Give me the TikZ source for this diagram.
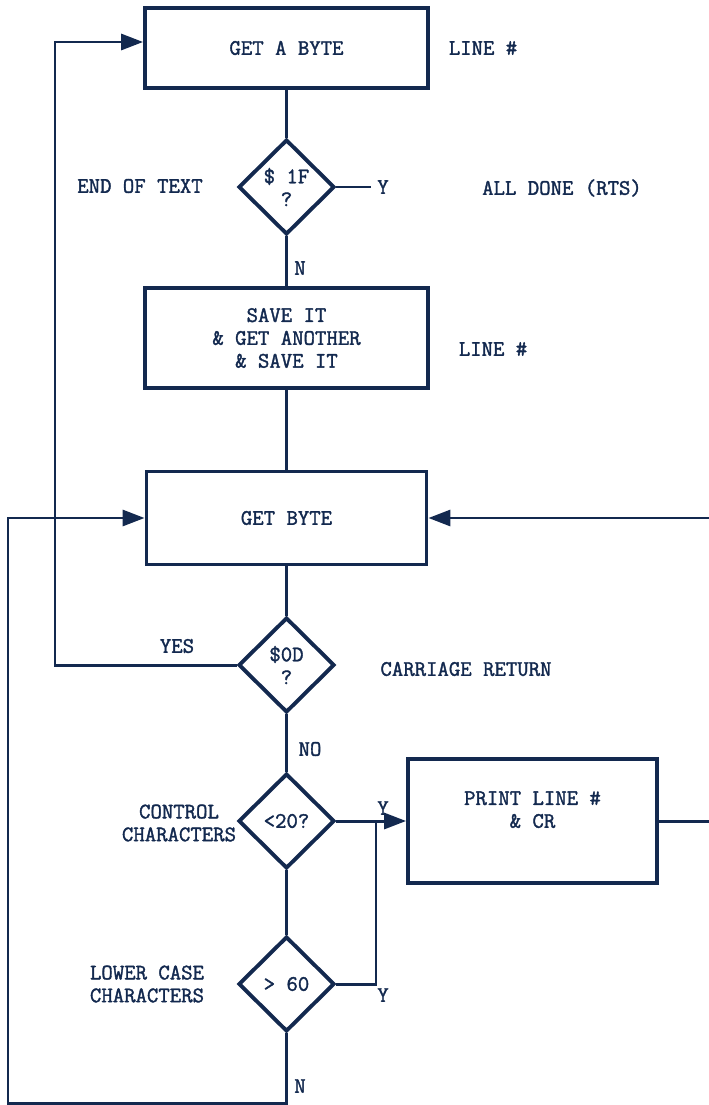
\documentclass[tikz,border=0pt]{standalone}
\usepackage{fontspec}
\usepackage{tikz}
\usetikzlibrary{arrows.meta,positioning,shapes,calc}
\newfontfamily\typefont[FakeBold=1.6]{Latin Modern Mono}
\definecolor{ink}{HTML}{13294F}
\tikzset{
  stepbox/.style={draw=ink,line width=2.2pt,text=ink,
                  inner sep=0pt,align=center},
  test/.style={diamond,draw=ink,line width=2.2pt,text=ink,
               minimum width=1.92cm,minimum height=1.9cm,
               inner sep=0pt,align=center},
  note/.style={text=ink,align=center},
  flowline/.style={line width=1.7pt,draw=ink},
  flowarr/.style={-{Triangle[length=4.4mm,width=3.2mm]},line width=1.7pt,draw=ink}
}
\begin{document}
\begin{tikzpicture}[x=0.02cm,y=-0.02cm,font=\typefont\fontsize{12.6}{13}\selectfont]
  \useasboundingbox (0,0) rectangle (709,1105);
  % main column
  \node[stepbox,minimum width=5.66cm,minimum height=1.6cm] (getone) at (286.5,48) {GET A BYTE};
  \node[test] (deot) at (286.5,187) {\$ 1F\\?};
  \node[stepbox,minimum width=5.66cm,minimum height=2cm] (save) at (286.5,338) {SAVE IT\\\& GET ANOTHER\\\& SAVE IT};
  \node[stepbox,minimum width=5.6cm,minimum height=1.86cm] (getbyte) at (286.5,518) {GET BYTE};
  \node[test] (dcr) at (286.5,665) {\$0D\\?};
  \node[test] (dctl) at (286.5,821) {<20?};
  \node[test] (dlc) at (286.5,984) {> 60};
  \node[stepbox,minimum width=4.98cm,minimum height=2.48cm] (prline) at (532.5,821) {PRINT LINE \#\\\& CR\\ };
  % side notes
  \node[note] (linea) at (483,48) {LINE \#};
  \node[note] (eot) at (140,186) {END OF TEXT};
  \node[note] (yone) at (383,187) {Y};
  \node[note] (done) at (562,188) {ALL DONE (RTS)};
  \node[note] (none) at (300,268) {N};
  \node[note] (lineb) at (493,349) {LINE \#};
  \node[note] (yes) at (177,646) {YES};
  \node[note] (cret) at (466,669) {CARRIAGE RETURN};
  \node[note] (no) at (310,749) {NO};
  \node[note] (ctl) at (179,823) {CONTROL\\CHARACTERS};
  \node[note] (yctl) at (383,808) {Y};
  \node[note] (lc) at (147,984) {LOWER CASE\\CHARACTERS};
  \node[note] (ylc) at (383,995) {Y};
  \node[note] (nlc) at (300,1086) {N};
  % bends and page edges
  \coordinate (join) at (376,821);
  \coordinate (loopa) at (55,665);
  \coordinate (outa) at (8,1103);
  \coordinate (rin) at (709,518);
  \coordinate (rout) at (709,821);
  \coordinate (topin) at ($(getone.west)+(0,-6)$);
  % connectors
  \draw[flowline] (getone.south) -- (deot.north);
  \draw[flowline] (deot.east) -- (yone.west);
  \draw[flowline] (deot.south) -- (save.north);
  \draw[flowline] (save.south) -- (getbyte.north);
  \draw[flowline] (getbyte.south) -- (dcr.north);
  \draw[flowline] (dcr.south) -- (dctl.north);
  \draw[flowline] (dctl.south) -- (dlc.north);
  \draw[flowarr] (dcr.west) -- (loopa) |- (topin);
  \draw[flowarr] (dlc.south) |- (outa) |- (getbyte.west);
  \draw[flowarr] (rin) -- (getbyte.east);
  \draw[flowarr] (dctl.east) -- (prline.west);
  \draw[flowline] (dlc.east) -| (join);
  \draw[flowline] (prline.east) -- (rout);
\end{tikzpicture}
\end{document}
